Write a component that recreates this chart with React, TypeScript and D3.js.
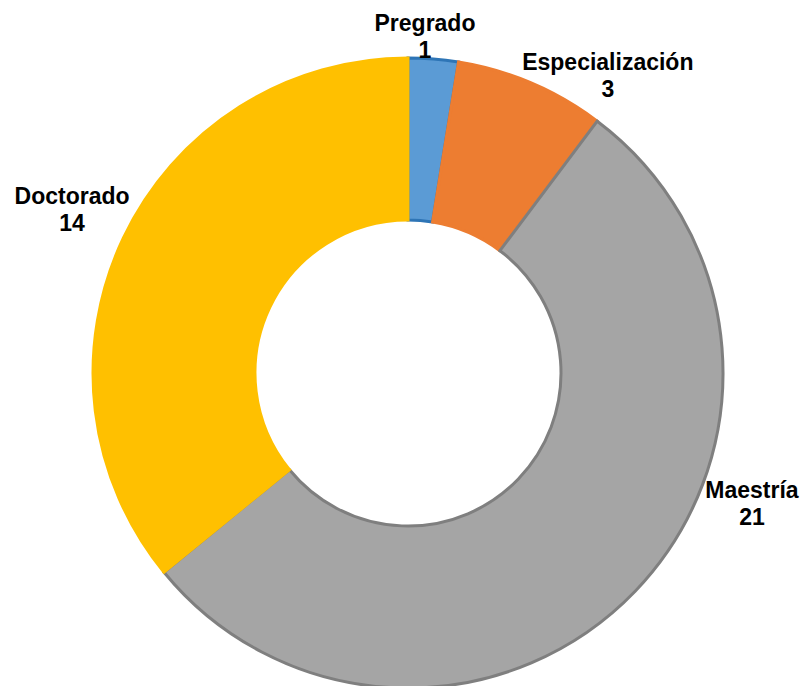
import React from "react";
import * as d3 from "d3";

const categories = ["Pregrado", "Especialización", "Maestría", "Doctorado"];
const values = [1, 3, 21, 14];
const fillColors = ["#5B9BD5", "#ED7D31", "#A5A5A5", "#FFC000"];
const strokeColors = ["#2E75B6", "#ED7D31", "#7F7F7F", "#FFC000"];

const W = 804;
const H = 686;
const CX = 408;
const CY = 373;
const R_OUT = 315;
const R_IN = 153;

// label placement: polar (degrees clockwise from top, radius to first baseline)
const labelPolar = [
  { a: 2.85, r: 342 },
  { a: 33.4, r: 363 },
  { a: 110.0, r: 366 },
  { a: 296.7, r: 376 },
];

export default function App() {
  const pie = d3
    .pie<number>()
    .sort(null)
    .value((d) => d)
    .startAngle(0)
    .endAngle(2 * Math.PI);
  const arcs = pie(values);
  const arc = d3.arc<d3.PieArcDatum<number>>().innerRadius(R_IN).outerRadius(R_OUT);

  return (
    <svg width={W} height={H} style={{ position: "absolute", left: 0, top: 0, display: "block" }}>
      <rect width={W} height={H} fill="#ffffff" />
      <g transform={`translate(${CX},${CY})`}>
        {arcs.map((a, i) => (
          <path
            key={categories[i]}
            d={arc(a) || ""}
            fill={fillColors[i]}
            stroke={strokeColors[i]}
            strokeWidth={3}
            strokeLinejoin="miter"
          />
        ))}
      </g>
      {categories.map((c, i) => {
        const p = labelPolar[i];
        const rad = (p.a * Math.PI) / 180;
        const x = CX + p.r * Math.sin(rad);
        const y = CY - p.r * Math.cos(rad);
        return (
          <text
            key={c}
            x={x}
            y={y}
            textAnchor="middle"
            fontFamily="'Liberation Sans', Arial, sans-serif"
            fontWeight="bold"
            fontSize={23}
            fill="#000000"
          >
            <tspan x={x} y={y}>{c}</tspan>
            <tspan x={x} y={y + 27}>{values[i]}</tspan>
          </text>
        );
      })}
    </svg>
  );
}
